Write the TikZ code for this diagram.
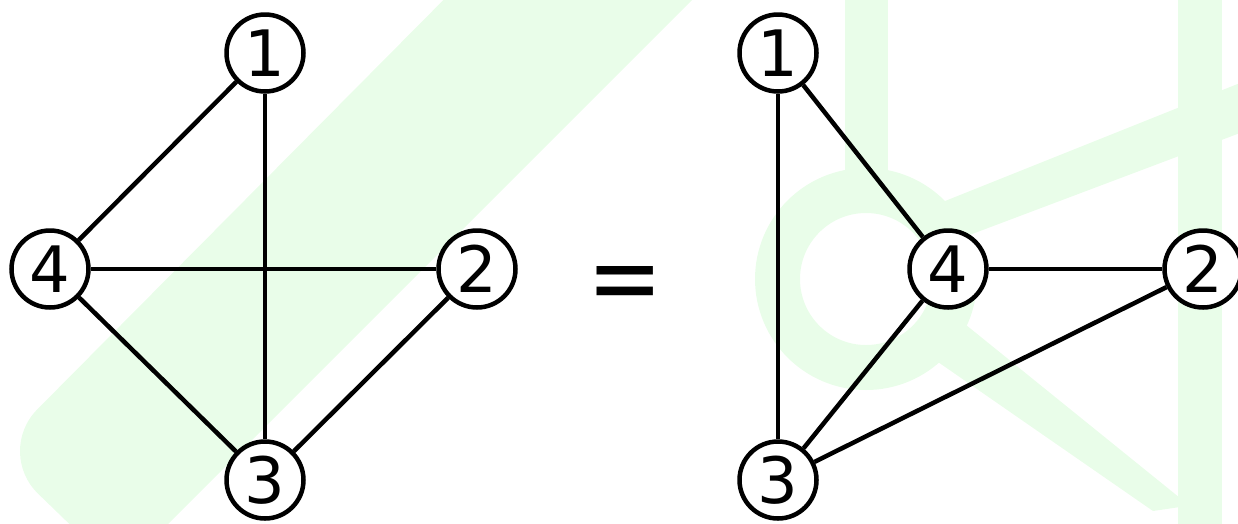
\documentclass[tikz,border=0pt]{standalone}
\usepackage{fontspec}
\setmainfont{DejaVu Sans}
\definecolor{bggreen}{RGB}{233,253,233}
\begin{document}
\begin{tikzpicture}[x=1pt,y=-1pt,
  vertex/.style={circle,draw=black,fill=white,line width=4.5pt,minimum size=77pt,inner sep=0pt,
    font=\fontsize{64}{64}\selectfont},
  edge/.style={line width=4.5pt,black}]
\useasboundingbox (0,0) rectangle (1238,523);
\clip (0,0) rectangle (1238,523);
% background watermark
\fill[bggreen,rounded corners=60pt] (493,-50) -- (742,-50) -- (119.5,572.5) -- (-5,452) -- cycle;
\fill[bggreen,even odd rule] (866,279) circle (111) (866,279) circle (66);
\fill[bggreen] (845,-2) rectangle (888,190);
\fill[bggreen] (935,205) -- (1240,83) -- (1240,133) -- (935,248) -- cycle;
\fill[bggreen] (1178,-2) rectangle (1222,525);
\fill[bggreen] (925,353) -- (950,312) -- (1180,498) -- (1180,507) -- (1153,511) -- cycle;
% left graph
\node[vertex] (a1) at (265,53) {1};
\node[vertex] (a4) at (50,269) {4};
\node[vertex] (a2) at (477,269) {2};
\node[vertex] (a3) at (265,480) {3};
\draw[edge] (a1) -- (a4);
\draw[edge] (a1) -- (a3);
\draw[edge] (a4) -- (a2);
\draw[edge] (a4) -- (a3);
\draw[edge] (a2) -- (a3);
% equals
\node[font=\fontsize{90}{90}\selectfont,inner sep=0pt,yscale=1.15] (eq) at (625,290) {=};
% right graph
\node[vertex] (b1) at (778,53) {1};
\node[vertex] (b4) at (948,269) {4};
\node[vertex] (b2) at (1203,269) {2};
\node[vertex] (b3) at (778,480) {3};
\draw[edge] (b1) -- (b3);
\draw[edge] (b1) -- (b4);
\draw[edge] (b4) -- (b2);
\draw[edge] (b4) -- (b3);
\draw[edge] (b3) -- (b2);
\end{tikzpicture}
\end{document}
